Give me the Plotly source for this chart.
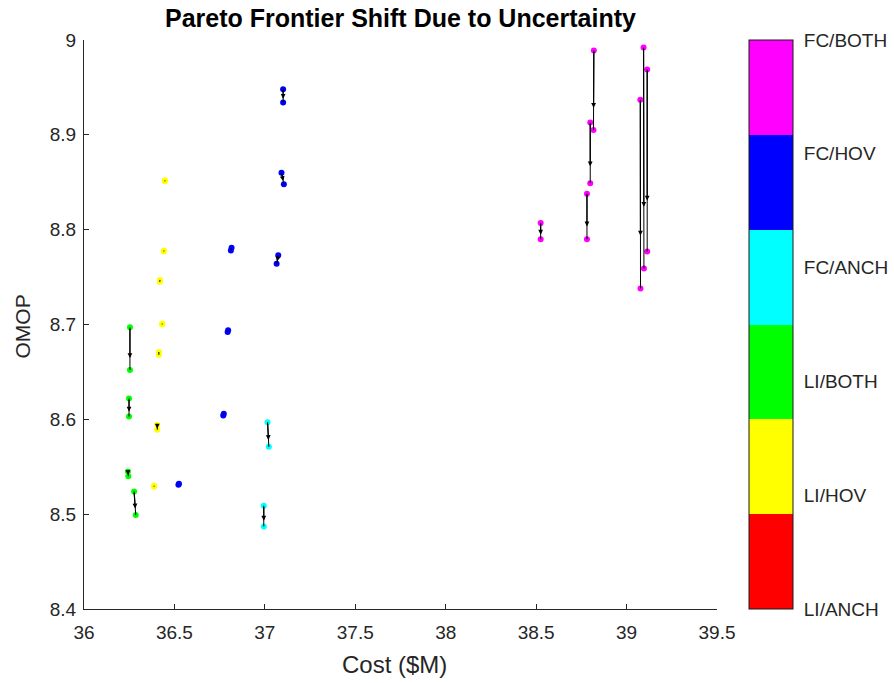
import plotly.graph_objects as go

# Design configurations (colour bar order, bottom to top)
configs = ["LI/ANCH", "LI/HOV", "LI/BOTH", "FC/ANCH", "FC/HOV", "FC/BOTH"]
config_colors = ["#ff0000", "#ffff00", "#00ff00", "#00ffff", "#0000ff", "#ff00ff"]

# Pareto points: nominal design vs. the same design under uncertainty
config_idx = [3, 3, 3, 3,
              2, 2, 2, 2, 2, 2, 2,
              4, 4,
              5, 5, 5, 5, 5, 5, 5,
              6, 6, 6, 6, 6, 6, 6]
cost_nominal = [36.254, 36.249, 36.243, 36.277,
                36.448, 36.442, 36.420, 36.433, 36.414, 36.405, 36.388,
                37.015, 36.994,
                37.101, 37.092, 36.816, 37.074, 36.797, 36.773, 36.525,
                38.525, 38.781, 38.819, 38.799, 39.094, 39.114, 39.076]
omop_nominal = [8.697, 8.622, 8.545, 8.524,
                8.852, 8.778, 8.747, 8.701, 8.671, 8.594, 8.530,
                8.597, 8.509,
                8.948, 8.860, 8.781, 8.773, 8.694, 8.606, 8.532,
                8.807, 8.838, 8.989, 8.913, 8.992, 8.969, 8.937]
cost_uncertain = [36.254, 36.249, 36.245, 36.286,
                  36.447, 36.441, 36.419, 36.432, 36.414, 36.405, 36.387,
                  37.022, 36.994,
                  37.101, 37.105, 36.812, 37.065, 36.794, 36.770, 36.522,
                  38.525, 38.781, 38.817, 38.799, 39.096, 39.114, 39.077]
omop_uncertain = [8.652, 8.603, 8.540, 8.499,
                  8.851, 8.777, 8.745, 8.700, 8.668, 8.589, 8.529,
                  8.571, 8.487,
                  8.934, 8.848, 8.778, 8.764, 8.692, 8.604, 8.531,
                  8.790, 8.790, 8.905, 8.849, 8.759, 8.777, 8.738]

x_ticks = [36, 36.5, 37, 37.5, 38, 38.5, 39, 39.5]
y_ticks = [8.4, 8.5, 8.6, 8.7, 8.8, 8.9, 9.0]

ARROW_SCALE = 0.72   # quiver-style shortening of the arrow shafts
AX_COLOR = "#262626"
FONT = "Liberation Sans, Arial, Helvetica, sans-serif"

n = len(configs)
colorscale = []
for i, c in enumerate(config_colors):
    colorscale.append([i / n, c])
    colorscale.append([(i + 1) / n, c])

fig = go.Figure()

# Both ends of every shift, coloured by configuration
fig.add_trace(go.Scatter(
    x=cost_nominal + cost_uncertain,
    y=omop_nominal + omop_uncertain,
    mode="markers",
    marker=dict(
        size=6,
        color=config_idx + config_idx,
        colorscale=colorscale,
        cmin=1, cmax=n,
        line=dict(width=0),
        colorbar=dict(
            tickmode="array",
            tickvals=list(range(1, n + 1)),
            ticktext=configs,
            ticks="outside", ticklen=7, tickcolor="rgba(0,0,0,0)",
            tickfont=dict(family=FONT, size=19, color=AX_COLOR),
            thicknessmode="pixels", thickness=44,
            lenmode="pixels", len=569,
            x=(749 - 84) / 633, xanchor="left", xpad=0,
            y=1, yanchor="top", ypad=0,
            outlinewidth=1, outlinecolor="#1a1a1a",
        ),
    ),
    hoverinfo="skip",
    showlegend=False,
))

# Connecting segments between nominal and uncertain points
seg_x, seg_y = [], []
for x0, y0, x1, y1 in zip(cost_nominal, omop_nominal, cost_uncertain, omop_uncertain):
    seg_x += [x0, x1, None]
    seg_y += [y0, y1, None]
fig.add_trace(go.Scatter(
    x=seg_x, y=seg_y, mode="lines",
    line=dict(color="black", width=1),
    hoverinfo="skip", showlegend=False,
))

# Arrowheads showing the direction of the shift
annotations = []
for x0, y0, x1, y1 in zip(cost_nominal, omop_nominal, cost_uncertain, omop_uncertain):
    tx = x0 + ARROW_SCALE * (x1 - x0)
    ty = y0 + ARROW_SCALE * (y1 - y0)
    annotations.append(dict(
        x=tx, y=ty, ax=x0, ay=y0,
        xref="x", yref="y", axref="x", ayref="y",
        text="", showarrow=True,
        arrowhead=2, arrowsize=0.8, arrowwidth=1.2, arrowcolor="black",
        standoff=0, startstandoff=0,
    ))

annotations += [
    dict(text="<b>Pareto Frontier Shift Due to Uncertainty</b>",
         xref="paper", yref="paper", x=0.5, y=1, yshift=22,
         xanchor="center", yanchor="middle", showarrow=False,
         font=dict(family=FONT, size=25, color="black")),
    dict(text="Cost ($M)",
         xref="paper", yref="paper", x=0.5, y=0, yshift=-55, xshift=-6,
         xanchor="center", yanchor="middle", showarrow=False,
         font=dict(family=FONT, size=24, color=AX_COLOR)),
    dict(text="OMOP", textangle=-90,
         xref="paper", yref="paper", x=0, y=0.5, xshift=-62, yshift=-2,
         xanchor="center", yanchor="middle", showarrow=False,
         font=dict(family=FONT, size=21, color=AX_COLOR)),
]

axis_common = dict(
    showline=True, linecolor=AX_COLOR, linewidth=1,
    ticks="inside", ticklen=5, tickcolor=AX_COLOR, tickwidth=1,
    showgrid=False, zeroline=False, mirror=False,
    tickfont=dict(family=FONT, size=19, color=AX_COLOR),
)

fig.update_layout(
    width=894, height=683,
    margin=dict(l=84, r=177, t=40, b=74, autoexpand=False),
    paper_bgcolor="white", plot_bgcolor="white",
    xaxis=dict(range=[36, 39.5], tickvals=x_ticks, ticklabelstandoff=6,
               ticktext=[f"{v:g}" for v in x_ticks], **axis_common),
    yaxis=dict(range=[8.4, 9.0], tickvals=y_ticks, ticklabelstandoff=3,
               ticktext=[f"{v:g}" for v in y_ticks], **axis_common),
    annotations=annotations,
    showlegend=False,
)

fig.write_html("out.html")
